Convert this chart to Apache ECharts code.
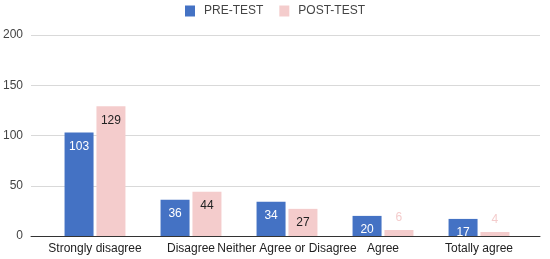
<!DOCTYPE html>
<html>
<head>
<meta charset="utf-8">
<script src="https://cdn.jsdelivr.net/npm/echarts@6/dist/echarts.min.js"></script>
<style>
  html, body { margin: 0; padding: 0; background: #fff; }
  #chart { width: 550px; height: 259px; }
</style>
</head>
<body>
<div id="chart"></div>
<script>
var categories = ['Strongly disagree', 'Disagree', 'Neither Agree or Disagree', 'Agree', 'Totally agree'];
var preTest = [103, 36, 34, 20, 17];
var postTest = [129, 44, 27, 6, 4];
var yTicks = [0, 50, 100, 150, 200];

var FONT = 'Arial, "Liberation Sans", sans-serif';
var BLUE = '#4472c4';
var PINK = '#f4cccc';

var chart = echarts.init(document.getElementById('chart'));

// pink labels sit inside the bar unless the bar is too short
var postData = postTest.map(function (v) {
  if (v < 15) {
    return { value: v, label: { position: 'top', color: PINK, distance: 6 } };
  }
  return v;
});

var option = {
  animation: false,
  textStyle: { fontFamily: FONT },
  legend: {
    top: 0,
    left: 'center',
    itemWidth: 10,
    itemHeight: 11,
    itemGap: 16,
    icon: 'rect',
    textStyle: { fontFamily: FONT, fontSize: 12, color: '#444', padding: [0, 0, 0, 4] },
    data: ['PRE-TEST', 'POST-TEST']
  },
  grid: [
    { left: 30, right: 10, top: 35, bottom: 23 },   // gridlines / y labels
    { left: 47, right: 23, top: 35, bottom: 23 }    // bars
  ],
  xAxis: [
    {
      gridIndex: 0, type: 'value', min: 0, max: 1,
      axisLabel: { show: false }, axisTick: { show: false }, splitLine: { show: false },
      axisLine: { show: true, onZero: false, lineStyle: { color: '#333', width: 1 } }
    },
    {
      gridIndex: 1, type: 'category', data: categories,
      axisLine: { show: false }, axisTick: { show: false },
      axisLabel: { interval: 0, margin: 7, fontSize: 12, color: '#222', fontFamily: FONT }
    }
  ],
  yAxis: [
    {
      gridIndex: 0, type: 'value', min: yTicks[0], max: yTicks[yTicks.length - 1], interval: 50,
      axisLine: { show: false }, axisTick: { show: false },
      axisLabel: { margin: 8, fontSize: 12, color: '#444', fontFamily: FONT },
      splitLine: { lineStyle: { color: '#d9d9d9', width: 1 } }
    },
    {
      gridIndex: 1, type: 'value', min: yTicks[0], max: yTicks[yTicks.length - 1],
      axisLine: { show: false }, axisTick: { show: false },
      axisLabel: { show: false }, splitLine: { show: false }
    }
  ],
  series: [
    {
      name: 'PRE-TEST', type: 'bar', xAxisIndex: 1, yAxisIndex: 1,
      data: preTest, barWidth: 29, barGap: '10%',
      itemStyle: { color: BLUE },
      label: { show: true, position: 'insideTop', distance: 8, color: '#fff', fontSize: 12, fontFamily: FONT }
    },
    {
      name: 'POST-TEST', type: 'bar', xAxisIndex: 1, yAxisIndex: 1,
      data: postData, barWidth: 29,
      itemStyle: { color: PINK },
      label: { show: true, position: 'insideTop', distance: 8, color: '#222', fontSize: 12, fontFamily: FONT }
    }
  ]
};

chart.setOption(option);
</script>
</body>
</html>
